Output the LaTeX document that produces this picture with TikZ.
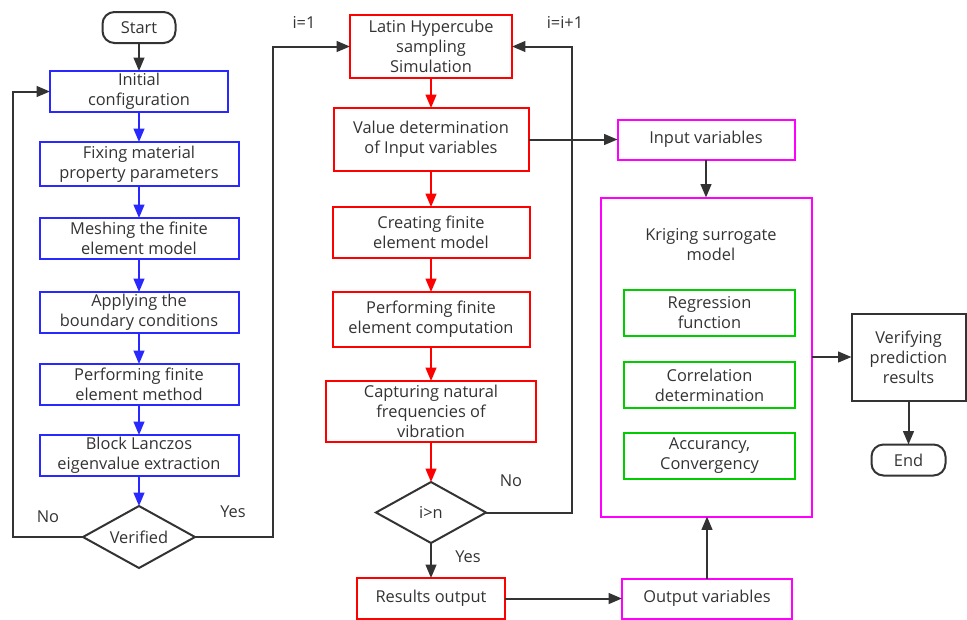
\documentclass[tikz,border=0pt]{standalone}
\usepackage{fontspec}
\setmainfont{Open Sans}
\usetikzlibrary{arrows.meta,positioning,shapes.geometric}
\definecolor{boxblue}{RGB}{40,40,255}
\definecolor{boxred}{RGB}{255,0,0}
\definecolor{boxmag}{RGB}{255,0,255}
\definecolor{boxgreen}{RGB}{0,204,0}
\definecolor{linegray}{RGB}{51,51,51}
\definecolor{txtgray}{RGB}{51,51,51}
\begin{document}
\begin{tikzpicture}[x=0.75pt, y=-0.75pt,
  every node/.style={text=txtgray, align=center, font=\fontsize{12.3}{15}\selectfont},
  stage/.style={draw, line width=1.5pt, inner xsep=2pt, inner ysep=1pt, outer sep=0pt},
  bluebox/.style={stage, draw=boxblue},
  redbox/.style={stage, draw=boxred},
  magbox/.style={stage, draw=boxmag},
  greenbox/.style={stage, draw=boxgreen, minimum width=128.25pt, minimum height=34.5pt},
  plainbox/.style={stage, draw=linegray},
  wide/.style={minimum width=149.25pt, minimum height=30.75pt},
  term/.style={stage, draw=linegray, rounded corners=9pt},
  decide/.style={draw=linegray, line width=1.5pt, diamond, aspect=1.8, inner sep=0pt, outer sep=0pt},
  arr/.style={-{Triangle[length=10pt,width=8pt]}, line width=1.5pt, color=linegray},
  barr/.style={arr, color=boxblue},
  rarr/.style={arr, color=boxred}
]
\useasboundingbox (0,0) rectangle (967,619);
% left column
\node[term, minimum width=54.75pt, minimum height=23.25pt] (start) at (139,27.5) {Start};
\node[bluebox, minimum width=133.5pt, minimum height=30.75pt, below=21pt of start] (init) {Initial\\configuration};
\node[bluebox, wide, minimum height=33pt, below=22.5pt of init] (fixmat) {Fixing material\\property parameters};
\node[bluebox, wide, below=24pt of fixmat] (mesh) {Meshing the finite\\element model};
\node[bluebox, wide, below=24.75pt of mesh] (bound) {Applying the\\boundary conditions};
\node[bluebox, wide, below=23.25pt of bound] (femeth) {Performing finite\\element method};
\node[bluebox, wide, below=22.5pt of femeth] (lanczos) {Block Lanczos\\eigenvalue extraction};
\node[decide, minimum width=84pt, minimum height=46.5pt, below=22.5pt of lanczos] (verified) {Verified};
% middle column
\node[redbox, minimum width=121.5pt, minimum height=47.25pt] (lhs) at (431,46.5) {Latin Hypercube\\sampling\\Simulation};
\node[redbox, minimum width=146.25pt, minimum height=47.25pt, below=22.5pt of lhs] (valdet) {Value determination\\of Input variables};
\node[redbox, minimum width=147.75pt, minimum height=38.25pt, below=27pt of valdet] (create) {Creating finite\\element model};
\node[redbox, minimum width=147.75pt, minimum height=41.25pt, below=25.5pt of create] (fecomp) {Performing finite\\element computation};
\node[redbox, minimum width=157.5pt, minimum height=45.75pt, below=25.5pt of fecomp] (capture) {Capturing natural\\frequencies of\\vibration};
\node[decide, minimum width=82.5pt, minimum height=45.75pt, below=30pt of capture] (check) {i>n};
\node[redbox, minimum width=111pt, minimum height=30.75pt, below=26.25pt of check] (results) {Results output};
% surrogate part
\node[magbox, minimum width=132.75pt, minimum height=30pt, right=66.75pt of valdet] (invars) {Input variables};
\node[magbox, minimum width=158.25pt, minimum height=239.25pt, below=28.5pt of invars] (kriging) {};
\node (krigtitle) at (711,245) {Kriging surrogate\\model};
\node[greenbox] (regress) at (709.5,313) {Regression\\function};
\node[greenbox, below=19.5pt of regress] (correl) {Correlation\\determination};
\node[greenbox, below=18.75pt of correl] (accur) {Accurancy,\\Convergency};
\node[magbox, minimum width=127.5pt, minimum height=30pt, right=87.75pt of results] (outvars) {Output variables};
\node[plainbox, minimum width=85.5pt, minimum height=65.25pt, right=30pt of kriging] (verify) {Verifying\\prediction\\results};
\node[term, minimum width=55.5pt, minimum height=23.25pt, below=33pt of verify] (finish) {End};
% labels
\node (nolbl) at (48,517) {No};
\node (yeslbl) at (233,512) {Yes};
\node (ione) at (304,22) {i=1};
\node (iinc) at (565,22) {i=i+1};
\node (nolbl2) at (511,481) {No};
\node (yeslbl2) at (468,557) {Yes};
% connectors
\draw[arr] (start) -- (init);
\draw[barr] (init) -- (fixmat);
\draw[barr] (fixmat) -- (mesh);
\draw[barr] (mesh) -- (bound);
\draw[barr] (bound) -- (femeth);
\draw[barr] (femeth) -- (lanczos);
\draw[barr] (lanczos) -- (verified);
\draw[arr] (verified.west) -- ++(-70,0) |- (init.west);
\draw[arr] (verified.east) -- ++(78,0) |- (lhs.west);
\draw[rarr] (lhs) -- (valdet);
\draw[rarr] (valdet) -- (create);
\draw[rarr] (create) -- (fecomp);
\draw[rarr] (fecomp) -- (capture);
\draw[rarr] (capture) -- (check);
\draw[arr] (check) -- (results);
\draw[arr] (check.east) -- ++(86,0) |- (lhs.east);
\draw[arr] (valdet) -- (invars);
\draw[arr] (results) -- (outvars);
\draw[arr] (invars) -- (kriging);
\draw[arr] (outvars.north) -- (outvars.north |- kriging.south);
\draw[arr] (kriging) -- (verify);
\draw[arr] (verify) -- (finish);
\end{tikzpicture}
\end{document}
